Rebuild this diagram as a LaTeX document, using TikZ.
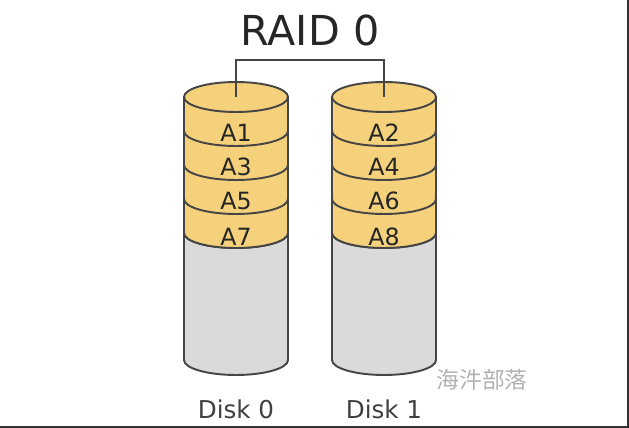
\documentclass[tikz,border=0pt]{standalone}
\usepackage{fontspec}
\setmainfont{DejaVu Sans}
\newfontfamily\cjk{Noto Sans CJK SC}
\definecolor{diskyellow}{HTML}{F5D17C}
\definecolor{diskgray}{HTML}{DADADA}
\definecolor{diskline}{HTML}{454545}

\begin{document}
\begin{tikzpicture}[x=0.02cm, y=-0.02cm, line width=1.1pt,
    data/.style={fill=diskyellow, draw=diskline},
    spare/.style={fill=diskgray, draw=diskline},
    blocklabel/.style={text=black!85, font=\fontsize{13.5}{15}\selectfont},
    disklabel/.style={text=black!75, font=\fontsize{14}{16}\selectfont}]

    \useasboundingbox (0,0) rectangle (629,428);
    % frame edges
    \fill[black!80] (627,0) rectangle (629,428);
    \fill[black!80] (0,426) rectangle (629,428);

    % Title
    \node (raid) at (310,30) [text=black!85, font=\fontsize{23.5}{26}\selectfont] {RAID 0};

    % Disk 0
    \draw[spare] (184,233) -- (184,360) arc[start angle=180, end angle=0, x radius=52, y radius=15]
        -- (288,233) arc[start angle=0, end angle=180, x radius=52, y radius=15] -- cycle;
    \draw[data] (184,97) -- (184,233) arc[start angle=180, end angle=0, x radius=52, y radius=15]
        -- (288,97) -- cycle;
    \draw[diskline] (184,131) arc[start angle=180, end angle=0, x radius=52, y radius=15];
    \draw[diskline] (184,165) arc[start angle=180, end angle=0, x radius=52, y radius=15];
    \draw[diskline] (184,199) arc[start angle=180, end angle=0, x radius=52, y radius=15];
    \draw[data] (236,97) ellipse[x radius=52, y radius=15];
    \coordinate (top0) at (236,97);

    % Disk 1
    \draw[spare] (332,233) -- (332,360) arc[start angle=180, end angle=0, x radius=52, y radius=15]
        -- (436,233) arc[start angle=0, end angle=180, x radius=52, y radius=15] -- cycle;
    \draw[data] (332,97) -- (332,233) arc[start angle=180, end angle=0, x radius=52, y radius=15]
        -- (436,97) -- cycle;
    \draw[diskline] (332,131) arc[start angle=180, end angle=0, x radius=52, y radius=15];
    \draw[diskline] (332,165) arc[start angle=180, end angle=0, x radius=52, y radius=15];
    \draw[diskline] (332,199) arc[start angle=180, end angle=0, x radius=52, y radius=15];
    \draw[data] (384,97) ellipse[x radius=52, y radius=15];
    \coordinate (top1) at (384,97);

    % Stripe link
    \draw[diskline] (top0) -- ++(0,-37) -| (top1);

    % Blocks
    \node (a1) at (236,133) [blocklabel] {A1};
    \node (a3) at (236,167) [blocklabel] {A3};
    \node (a5) at (236,201) [blocklabel] {A5};
    \node (a7) at (236,237) [blocklabel] {A7};
    \node (a2) at (384,133) [blocklabel] {A2};
    \node (a4) at (384,167) [blocklabel] {A4};
    \node (a6) at (384,201) [blocklabel] {A6};
    \node (a8) at (384,237) [blocklabel] {A8};

    % Disk names
    \node (disk0) at (236,409) [disklabel] {Disk 0};
    \node (disk1) at (384,409) [disklabel] {Disk 1};

    % Watermark
    \node (mark) at (482,380) [text=black!30, font=\cjk\fontsize{13}{15}\selectfont] {海汼部落};
\end{tikzpicture}
\end{document}
